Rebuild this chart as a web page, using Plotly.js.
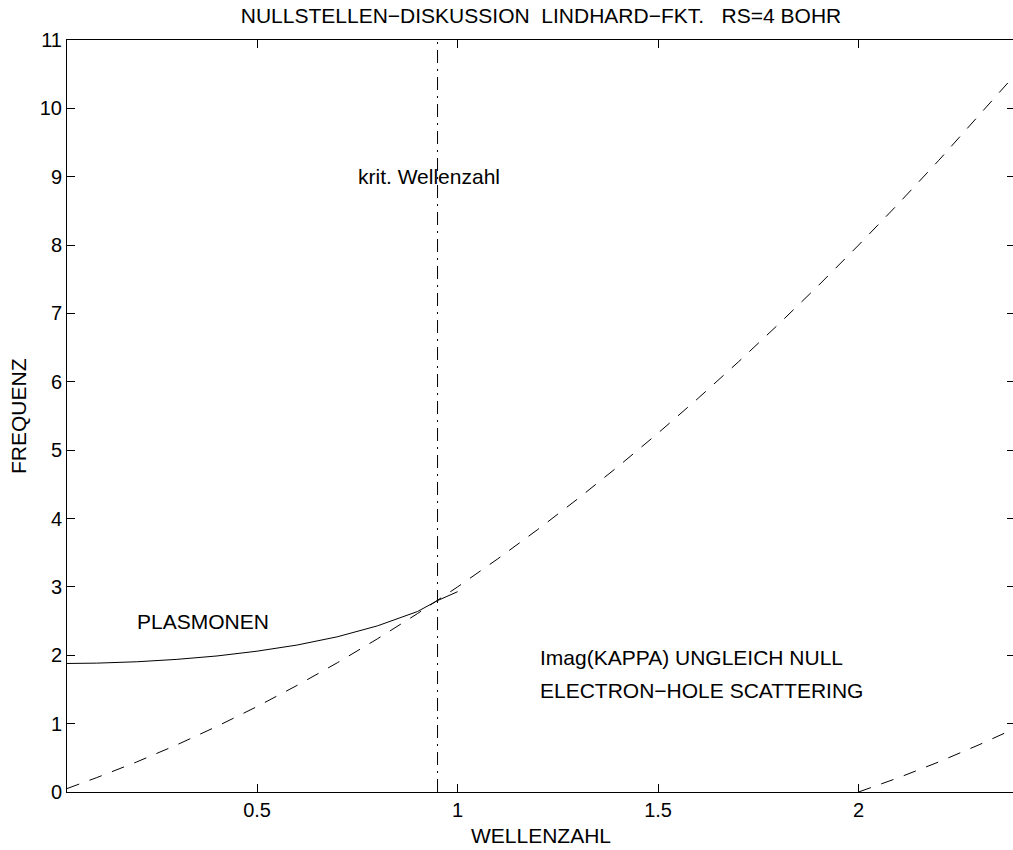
<!DOCTYPE html>
<html>
<head>
<meta charset="utf-8">
<script src="https://cdn.plot.ly/plotly-3.0.1.min.js"></script>
<style>
  html, body { margin: 0; padding: 0; overflow: hidden; background: #fff; }
  #chart { width: 1020px; height: 850px; }
</style>
</head>
<body>
<div id="chart"></div>
<script>
// Upper boundary of electron-hole continuum (dashed)
const upperX = [0.026, 0.1, 0.2, 0.3, 0.4, 0.5, 0.6, 0.7, 0.8, 0.9, 1.0, 1.1, 1.2, 1.3, 1.4, 1.5, 1.6, 1.7, 1.8, 1.9, 2.0, 2.1, 2.2, 2.3, 2.39];
const upperY = [0.05, 0.21, 0.44, 0.69, 0.96, 1.25, 1.56, 1.89, 2.24, 2.61, 3.0, 3.41, 3.84, 4.29, 4.76, 5.25, 5.76, 6.29, 6.84, 7.41, 8.0, 8.61, 9.24, 9.89, 10.49];
// Lower boundary (dashed)
const lowerX = [2.0, 2.1, 2.2, 2.3, 2.39];
const lowerY = [0.0, 0.21, 0.44, 0.69, 0.93];
// Plasmon dispersion (solid)
const plasmonX = [0.026, 0.1, 0.2, 0.3, 0.4, 0.5, 0.6, 0.7, 0.8, 0.9, 0.95, 1.0];
const plasmonY = [1.88, 1.885, 1.905, 1.94, 1.99, 2.06, 2.15, 2.27, 2.43, 2.64, 2.80, 2.93];
// Critical wave number (dash-dot vertical)
const critX = [0.95, 0.95];
const critY = [0, 11];

const xTicks = [0.5, 1, 1.5, 2];
const xTickText = ['0.5', '1', '1.5', '2'];
const yTicks = [0, 1, 2, 3, 4, 5, 6, 7, 8, 9, 10, 11];

const titleText = 'NULLSTELLEN\u2212DISKUSSION  LINDHARD\u2212FKT.   RS=4 BOHR';
const xLabel = 'WELLENZAHL';
const yLabel = 'FREQUENZ';

const FONT = 'Liberation Sans, Arial, Helvetica, sans-serif';
const TXT = 21;

const traces = [
  { x: upperX, y: upperY, mode: 'lines', line: { color: '#000', width: 1, dash: '13px,11px' }, hoverinfo: 'skip' },
  { x: lowerX, y: lowerY, mode: 'lines', line: { color: '#000', width: 1, dash: '13px,11px' }, hoverinfo: 'skip' },
  { x: plasmonX, y: plasmonY, mode: 'lines', line: { color: '#000', width: 1 }, hoverinfo: 'skip' },
  { x: critX, y: critY, mode: 'lines', line: { color: '#000', width: 1, dash: '13px,6px,2px,6px' }, hoverinfo: 'skip' }
];

const axisCommon = {
  showgrid: false, zeroline: false, showline: true, linecolor: '#000', linewidth: 1,
  mirror: 'ticks', ticks: 'inside', ticklen: 8, tickwidth: 1, tickcolor: '#000',
  tickfont: { family: FONT, size: 20, color: '#000' }
};

const layout = {
  width: 1020, height: 850,
  margin: { l: 67, r: 5, t: 40, b: 58, autoexpand: false },
  paper_bgcolor: '#fff', plot_bgcolor: '#fff',
  showlegend: false,
  font: { family: FONT, size: 20, color: '#000' },
  title: { text: titleText, x: 0.5, xref: 'paper', xanchor: 'center', y: 1 - 16 / 850, yref: 'container', yanchor: 'middle', font: { family: FONT, size: TXT, color: '#000' } },
  xaxis: Object.assign({}, axisCommon, { range: [0.026, 2.39], tickvals: xTicks, ticktext: xTickText }),
  yaxis: Object.assign({}, axisCommon, { range: [0, 11], tickvals: yTicks }),
  annotations: [
    { text: xLabel, xref: 'paper', yref: 'paper', x: 0.5, y: (792 - 835) / 752, xanchor: 'center', yanchor: 'middle', showarrow: false, font: { family: FONT, size: TXT, color: '#000' } },
    { text: yLabel, xref: 'paper', yref: 'paper', x: (18 - 67) / 948, y: 0.5, xanchor: 'center', yanchor: 'middle', textangle: -90, showarrow: false, font: { family: FONT, size: TXT, color: '#000' } },
    { text: 'krit. Wellenzahl', xref: 'x', yref: 'y', x: 0.929, y: 9.01, xanchor: 'center', yanchor: 'middle', showarrow: false, font: { family: FONT, size: TXT, color: '#000' } },
    { text: 'PLASMONEN', xref: 'x', yref: 'y', x: 0.365, y: 2.50, xanchor: 'center', yanchor: 'middle', showarrow: false, font: { family: FONT, size: TXT, color: '#000' } },
    { text: 'Imag(KAPPA) UNGLEICH NULL', xref: 'x', yref: 'y', x: 1.2, y: 1.964, xanchor: 'left', yanchor: 'middle', showarrow: false, font: { family: FONT, size: TXT, color: '#000' } },
    { text: 'ELECTRON\u2212HOLE SCATTERING', xref: 'x', yref: 'y', x: 1.2, y: 1.484, xanchor: 'left', yanchor: 'middle', showarrow: false, font: { family: FONT, size: TXT, color: '#000' } }
  ]
};

Plotly.newPlot('chart', traces, layout, { displayModeBar: false, staticPlot: true });
</script>
</body>
</html>
